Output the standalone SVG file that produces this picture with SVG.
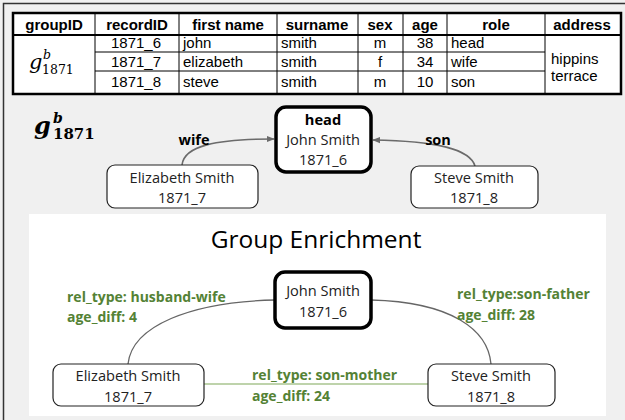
<svg xmlns="http://www.w3.org/2000/svg" width="625" height="420" viewBox="0 0 625 420">
<defs>
<style>
.th{font-family:"Liberation Sans",Arial,sans-serif;font-size:15px;font-weight:bold;fill:#000;text-anchor:middle}
.td{font-family:"Liberation Sans",Arial,sans-serif;font-size:15px;fill:#000}
.c{text-anchor:middle}
.grid{stroke:#000;stroke-width:1;fill:none}
.nt{font-family:"Open Sans","Noto Sans",sans-serif;font-size:14.6px;fill:#222;text-anchor:middle}
.nb{font-weight:bold;fill:#000}
.box{fill:#fff;stroke:#222;stroke-width:1.2}
.boxh{fill:#fff;stroke:#000;stroke-width:3.5}
.el{font-family:"Open Sans","Noto Sans",sans-serif;font-size:14.5px;font-weight:bold;fill:#000;text-anchor:middle}
.gl{font-family:"Open Sans","Noto Sans",sans-serif;font-size:14px;font-weight:bold;fill:#548235}
.edge{fill:none;stroke:#666;stroke-width:1.3}
.arr{fill:none;stroke:#6b6b6b;stroke-width:1.6}
</style>
<marker id="ah" viewBox="0 0 10 10" refX="9" refY="5" markerWidth="8" markerHeight="8" markerUnits="userSpaceOnUse" orient="auto">
<path d="M0,1 L10,5 L0,9 z" fill="#6b6b6b"/>
</marker>
</defs>
<rect x="0" y="0" width="625" height="420" fill="#f0f0f0"/>
<path d="M3.5,420 V3.5 H625" fill="none" stroke="#333" stroke-width="1.5"/>

<g id="table">
<rect x="13" y="13" width="608" height="81" fill="#fff"/>
<path class="grid" d="M95,13V94 M179,13V94 M277,13V94 M358,13V94 M403,13V94 M447,13V94 M545,13V94 M95,52H545 M95,71H545"/>
<line x1="13" y1="35" x2="621" y2="35" stroke="#000" stroke-width="2"/>
<rect x="13" y="13" width="608" height="81" fill="none" stroke="#000" stroke-width="2.5"/>
<text class="th" x="54" y="30">groupID</text>
<text class="th" x="137" y="30">recordID</text>
<text class="th" x="228" y="30">first name</text>
<text class="th" x="317" y="30">surname</text>
<text class="th" x="380" y="30">sex</text>
<text class="th" x="425" y="30">age</text>
<text class="th" x="496" y="30">role</text>
<text class="th" x="582" y="30">address</text>
<text font-family="DejaVu Serif,serif" font-style="italic" font-size="21" x="29" y="69">g</text>
<text font-family="DejaVu Serif,serif" font-style="italic" font-size="12.5" x="43" y="59">b</text>
<text font-family="DejaVu Serif,serif" font-size="12.5" x="42" y="74">1871</text>
<text class="td c" x="136" y="48">1871_6</text>
<text class="td c" x="136" y="67">1871_7</text>
<text class="td c" x="136" y="87">1871_8</text>
<text class="td" x="183" y="48">john</text>
<text class="td" x="183" y="67">elizabeth</text>
<text class="td" x="183" y="87">steve</text>
<text class="td" x="281" y="48">smith</text>
<text class="td" x="281" y="67">smith</text>
<text class="td" x="281" y="87">smith</text>
<text class="td c" x="380" y="48">m</text>
<text class="td c" x="380" y="67">f</text>
<text class="td c" x="380" y="87">m</text>
<text class="td c" x="425" y="48">38</text>
<text class="td c" x="425" y="67">34</text>
<text class="td c" x="425" y="87">10</text>
<text class="td" x="451" y="48">head</text>
<text class="td" x="451" y="67">wife</text>
<text class="td" x="451" y="87">son</text>
<text class="td" x="551" y="64">hippins</text>
<text class="td" x="551" y="81">terrace</text>
</g>

<g id="group-label">
<text font-family="DejaVu Serif,serif" font-weight="bold" font-style="italic" font-size="24" x="34" y="134">g</text>
<text font-family="DejaVu Serif,serif" font-weight="bold" font-style="italic" font-size="14" x="53" y="123">b</text>
<text font-family="DejaVu Serif,serif" font-weight="bold" font-size="15" x="53" y="139">1871</text>
</g>

<g id="connectors-top">
<path class="arr" d="M182,165 C184,146 215,139 274,139" marker-end="url(#ah)"/>
<path class="arr" d="M475,166 C470,150 440,141 373,140" marker-end="url(#ah)"/>
<text class="el" x="194" y="145">wife</text>
<text class="el" x="438" y="145">son</text>
</g>

<g id="head-top">
<rect class="boxh" x="276" y="107" width="95" height="65" rx="10"/>
<text class="nt nb" x="323" y="125">head</text>
<text class="nt" x="323" y="145">John Smith</text>
<text class="nt" x="323" y="165">1871_6</text>
</g>
<g id="elizabeth-top">
<rect class="box" x="107" y="165" width="151" height="43" rx="8"/>
<text class="nt" x="182" y="183">Elizabeth Smith</text>
<text class="nt" x="182" y="203">1871_7</text>
</g>
<g id="steve-top">
<rect class="box" x="411" y="166" width="127" height="42" rx="8"/>
<text class="nt" x="474" y="183">Steve Smith</text>
<text class="nt" x="474" y="203">1871_8</text>
</g>

<g id="enrichment-panel">
<rect x="29" y="214" width="577" height="202" fill="#fff"/>
<text font-family="'Open Sans','Noto Sans',sans-serif" font-size="24.5" fill="#000" text-anchor="middle" x="316" y="248">Group Enrichment</text>
</g>

<g id="connectors-bottom">
<path class="edge" d="M275,300 C190,302 132,326 128,364"/>
<path class="edge" d="M371,300 C452,302 488,330 491,364"/>
<line x1="204" y1="384" x2="428" y2="384" stroke="#a9c48f" stroke-width="1.5"/>
<text class="gl" x="67" y="302">rel_type: husband-wife</text>
<text class="gl" x="67" y="322">age_diff: 4</text>
<text class="gl" x="457" y="299">rel_type:son-father</text>
<text class="gl" x="457" y="320">age_diff: 28</text>
<text class="gl" x="252" y="380">rel_type: son-mother</text>
<text class="gl" x="252" y="401">age_diff: 24</text>
</g>

<g id="head-bottom">
<rect class="boxh" x="275" y="272" width="96" height="56" rx="10"/>
<text class="nt" x="323" y="296">John Smith</text>
<text class="nt" x="323" y="317">1871_6</text>
</g>
<g id="elizabeth-bottom">
<rect class="box" x="53" y="364" width="151" height="42" rx="8"/>
<text class="nt" x="128" y="381">Elizabeth Smith</text>
<text class="nt" x="128" y="402">1871_7</text>
</g>
<g id="steve-bottom">
<rect class="box" x="428" y="364" width="127" height="42" rx="8"/>
<text class="nt" x="491" y="381">Steve Smith</text>
<text class="nt" x="491" y="402">1871_8</text>
</g>
</svg>
